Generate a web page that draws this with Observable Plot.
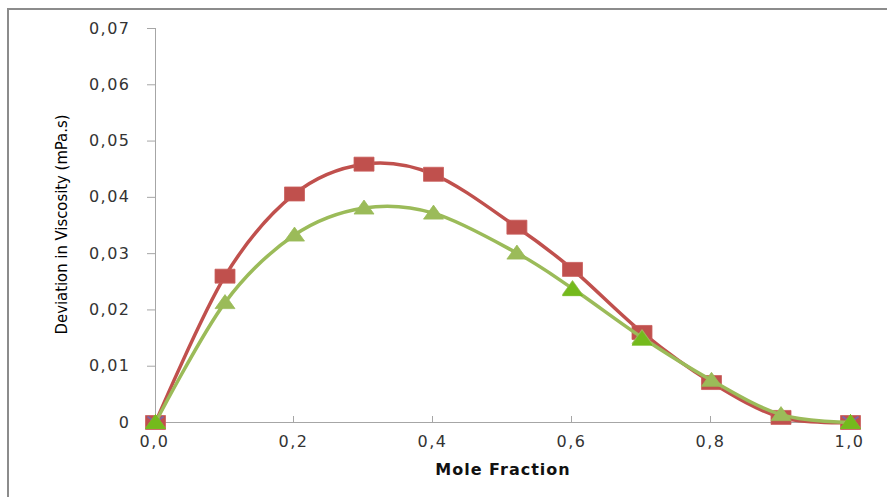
<!DOCTYPE html>
<html>
<head>
<meta charset="utf-8">
<script src="https://cdn.jsdelivr.net/npm/d3@7"></script>
<script src="https://cdn.jsdelivr.net/npm/@observablehq/plot@0.6"></script>
<style>
  html, body { margin: 0; padding: 0; background: #fff; overflow: hidden; width: 887px; height: 497px; }
  #wrap { position: relative; width: 887px; height: 497px; }
  #frame { position: absolute; left: 7px; top: 8px; width: 900px; height: 520px; border-left: 2px solid #8c8c8c; border-top: 2px solid #8c8c8c; box-sizing: border-box; }
  #chart { position: absolute; left: 0; top: 0; }
</style>
</head>
<body>
<div id="wrap"><div id="frame"></div><div id="chart"></div></div>
<script>
const moleFraction = [0, 0.1, 0.2, 0.3, 0.4, 0.52, 0.6, 0.7, 0.8, 0.9, 1.0];
const redSeries   = [0, 0.0260, 0.0406, 0.0459, 0.0441, 0.0347, 0.0272, 0.0160, 0.0071, 0.0009, 0];
const greenSeries = [0, 0.0213, 0.0333, 0.0381, 0.0372, 0.0301, 0.0238, 0.0151, 0.0075, 0.0014, 0];
const limeX = [0, 0.6, 0.7, 1.0];
const limeY = [0, 0.0236, 0.0148, 0];
const purpleX = [0, 1.0];
const purpleY = [0, 0];
const xTicks = [0, 0.2, 0.4, 0.6, 0.8, 1.0];
const xTickLabels = ["0,0", "0,2", "0,4", "0,6", "0,8", "1,0"];
const yTicks = [0, 0.01, 0.02, 0.03, 0.04, 0.05, 0.06, 0.07];
const yTickLabels = ["0", "0,01", "0,02", "0,03", "0,04", "0,05", "0,06", "0,07"];
const xTitle = "Mole Fraction";
const yTitle = "Deviation in Viscosity (mPa.s)";

const red = moleFraction.map((x, i) => ({x, y: redSeries[i]}));
const green = moleFraction.map((x, i) => ({x, y: greenSeries[i]}));
const lime = limeX.map((x, i) => ({x, y: limeY[i]}));
const purple = purpleX.map((x, i) => ({x, y: purpleY[i]}));

const wideSquare = {draw(ctx) { ctx.moveTo(-10, -7); ctx.lineTo(10, -7); ctx.lineTo(10, 7); ctx.lineTo(-10, 7); ctx.closePath(); }};
const wideTriangle = {draw(ctx) { ctx.moveTo(0, -8); ctx.lineTo(10, 6); ctx.lineTo(-10, 6); ctx.closePath(); }};
const xMark = {draw(ctx) { ctx.moveTo(-8, -6); ctx.lineTo(8, 6); ctx.moveTo(8, -6); ctx.lineTo(-8, 6); }};

const xFmt = d => xTickLabels[xTicks.findIndex(t => Math.abs(t - d) < 1e-9)];
const yFmt = d => yTickLabels[yTicks.findIndex(t => Math.abs(t - d) < 1e-9)];

const axisColor = "#a6a6a6";
const plot = Plot.plot({
  width: 887,
  height: 497,
  marginLeft: 155,
  marginRight: 37,
  marginTop: 28,
  marginBottom: 75,
  x: {domain: [0, 1]},
  y: {domain: [0, 0.07]},
  style: {fontFamily: "DejaVu Sans, sans-serif", fontSize: "16px", color: "#333", background: "transparent", overflow: "visible"},
  marks: [
    Plot.ruleX([0], {stroke: axisColor, strokeWidth: 1}),
    Plot.ruleY([0], {stroke: axisColor, strokeWidth: 1}),
    Plot.axisY({ticks: yTicks, tickFormat: yFmt, tickSize: 8, tickPadding: 17, stroke: axisColor, label: null, fill: "#333"}),
    Plot.axisX({ticks: xTicks, tickFormat: xFmt, tickSize: -6, tickPadding: 19, dx: -1, stroke: axisColor, label: null, fill: "#333"}),
    Plot.line(red, {x: "x", y: "y", stroke: "#C0504D", strokeWidth: 3.5, curve: "cardinal"}),
    Plot.dot(red, {x: "x", y: "y", symbol: wideSquare, fill: "#C0504D", stroke: "#c9605d", strokeWidth: 0.8}),
    Plot.dot(purple, {x: "x", y: "y", symbol: xMark, stroke: "#8064A2", strokeWidth: 2}),
    Plot.line(green, {x: "x", y: "y", stroke: "#9BBB59", strokeWidth: 3.5, curve: "cardinal"}),
    Plot.dot(green, {x: "x", y: "y", symbol: wideTriangle, fill: "#9BBB59", stroke: "#9BBB59", strokeWidth: 0.8}),
    Plot.dot(lime, {x: "x", y: "y", symbol: wideTriangle, fill: "#74BA1C", stroke: "#74BA1C", strokeWidth: 0.8}),
    Plot.text([yTitle], {frameAnchor: "left", textAnchor: "middle", dx: -94, dy: -1, rotate: -90, fontSize: 16.5, fontFamily: "Liberation Sans Narrow, DejaVu Sans Condensed, sans-serif", fill: "#000"}),
    Plot.text([xTitle], {frameAnchor: "bottom", dy: 52, fontSize: 16, fontWeight: "bold", fontFamily: "DejaVu Sans, sans-serif", fill: "#111"})
  ]
});
document.getElementById("chart").appendChild(plot);
d3.select(plot).selectAll('g[aria-label="x-axis tick label"] text, g[aria-label="y-axis tick label"] text').style("letter-spacing", "1.5px");
d3.select(plot).selectAll('g[aria-label="text"] text').filter(function() { return this.textContent === xTitle; }).style("letter-spacing", "1px");
</script>
</body>
</html>
